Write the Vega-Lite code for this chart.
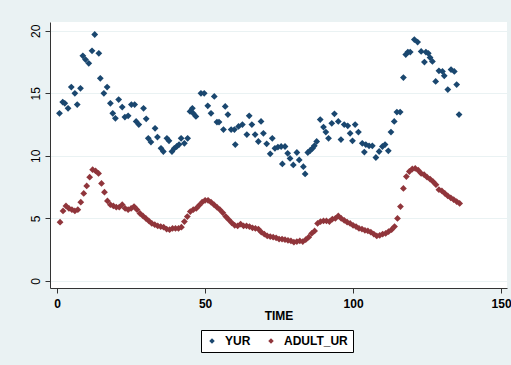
{
  "$schema": "https://vega.github.io/schema/vega-lite/v6.json",
  "width": 457,
  "height": 266,
  "autosize": "none",
  "padding": {"left": 50, "top": 22, "right": 4, "bottom": 77},
  "background": "#eaf2f3",
  "config": {
    "view": {"fill": "white", "stroke": null},
    "font": "Liberation Sans"
  },
  "data": {
    "values": [
      {"t":0.8,"v":13.4,"s":"YUR"},{"t":1.9,"v":14.3,"s":"YUR"},{"t":2.6,"v":14.2,"s":"YUR"},{"t":3.7,"v":13.8,"s":"YUR"},{"t":4.8,"v":15.5,"s":"YUR"},{"t":6.0,"v":15.0,"s":"YUR"},{"t":6.8,"v":14.1,"s":"YUR"},{"t":7.9,"v":15.4,"s":"YUR"},{"t":8.7,"v":18.0,"s":"YUR"},{"t":9.6,"v":17.7,"s":"YUR"},{"t":10.7,"v":17.4,"s":"YUR"},{"t":11.8,"v":18.4,"s":"YUR"},{"t":12.7,"v":19.7,"s":"YUR"},{"t":14.1,"v":18.2,"s":"YUR"},{"t":14.6,"v":16.2,"s":"YUR"},{"t":15.8,"v":15.0,"s":"YUR"},{"t":16.9,"v":15.5,"s":"YUR"},{"t":18.0,"v":14.2,"s":"YUR"},{"t":18.8,"v":13.4,"s":"YUR"},{"t":19.7,"v":13.0,"s":"YUR"},{"t":20.8,"v":14.5,"s":"YUR"},{"t":22.0,"v":13.9,"s":"YUR"},{"t":22.9,"v":13.1,"s":"YUR"},{"t":24.0,"v":13.2,"s":"YUR"},{"t":25.1,"v":14.1,"s":"YUR"},{"t":26.2,"v":14.1,"s":"YUR"},{"t":26.7,"v":12.75,"s":"YUR"},{"t":27.6,"v":12.5,"s":"YUR"},{"t":29.2,"v":13.8,"s":"YUR"},{"t":30.1,"v":12.96,"s":"YUR"},{"t":30.8,"v":11.4,"s":"YUR"},{"t":31.7,"v":11.1,"s":"YUR"},{"t":33.1,"v":12.2,"s":"YUR"},{"t":33.9,"v":11.5,"s":"YUR"},{"t":35.1,"v":10.6,"s":"YUR"},{"t":35.9,"v":10.35,"s":"YUR"},{"t":37.1,"v":11.4,"s":"YUR"},{"t":37.8,"v":11.2,"s":"YUR"},{"t":38.8,"v":10.35,"s":"YUR"},{"t":39.6,"v":10.6,"s":"YUR"},{"t":40.4,"v":10.75,"s":"YUR"},{"t":41.2,"v":10.9,"s":"YUR"},{"t":41.9,"v":11.4,"s":"YUR"},{"t":43.0,"v":11.0,"s":"YUR"},{"t":44.1,"v":11.4,"s":"YUR"},{"t":44.9,"v":13.55,"s":"YUR"},{"t":45.7,"v":13.8,"s":"YUR"},{"t":46.0,"v":13.4,"s":"YUR"},{"t":46.9,"v":13.15,"s":"YUR"},{"t":48.6,"v":15.0,"s":"YUR"},{"t":49.7,"v":15.0,"s":"YUR"},{"t":50.9,"v":14.0,"s":"YUR"},{"t":52.0,"v":13.4,"s":"YUR"},{"t":53.1,"v":14.75,"s":"YUR"},{"t":54.0,"v":12.7,"s":"YUR"},{"t":54.7,"v":12.7,"s":"YUR"},{"t":56.2,"v":12.1,"s":"YUR"},{"t":56.8,"v":13.95,"s":"YUR"},{"t":57.7,"v":13.3,"s":"YUR"},{"t":58.8,"v":12.1,"s":"YUR"},{"t":59.9,"v":12.1,"s":"YUR"},{"t":60.2,"v":10.9,"s":"YUR"},{"t":61.3,"v":12.35,"s":"YUR"},{"t":62.6,"v":12.5,"s":"YUR"},{"t":64.1,"v":11.7,"s":"YUR"},{"t":64.9,"v":13.2,"s":"YUR"},{"t":65.8,"v":12.5,"s":"YUR"},{"t":66.9,"v":11.7,"s":"YUR"},{"t":68.0,"v":11.15,"s":"YUR"},{"t":68.9,"v":12.75,"s":"YUR"},{"t":69.7,"v":11.8,"s":"YUR"},{"t":70.8,"v":10.96,"s":"YUR"},{"t":72.0,"v":10.16,"s":"YUR"},{"t":72.7,"v":11.4,"s":"YUR"},{"t":73.6,"v":10.6,"s":"YUR"},{"t":74.6,"v":10.7,"s":"YUR"},{"t":75.7,"v":10.75,"s":"YUR"},{"t":76.1,"v":9.36,"s":"YUR"},{"t":77.0,"v":10.75,"s":"YUR"},{"t":77.9,"v":10.2,"s":"YUR"},{"t":78.7,"v":9.8,"s":"YUR"},{"t":79.8,"v":9.28,"s":"YUR"},{"t":81.0,"v":10.27,"s":"YUR"},{"t":81.8,"v":9.68,"s":"YUR"},{"t":83.2,"v":9.14,"s":"YUR"},{"t":83.8,"v":8.56,"s":"YUR"},{"t":84.7,"v":10.27,"s":"YUR"},{"t":85.5,"v":10.43,"s":"YUR"},{"t":86.3,"v":10.6,"s":"YUR"},{"t":86.9,"v":10.8,"s":"YUR"},{"t":87.7,"v":11.15,"s":"YUR"},{"t":88.9,"v":12.9,"s":"YUR"},{"t":90.0,"v":12.3,"s":"YUR"},{"t":90.8,"v":11.9,"s":"YUR"},{"t":91.7,"v":11.4,"s":"YUR"},{"t":92.8,"v":12.6,"s":"YUR"},{"t":93.7,"v":13.36,"s":"YUR"},{"t":95.0,"v":12.75,"s":"YUR"},{"t":95.9,"v":11.3,"s":"YUR"},{"t":97.0,"v":12.5,"s":"YUR"},{"t":98.2,"v":12.4,"s":"YUR"},{"t":99.0,"v":11.8,"s":"YUR"},{"t":99.8,"v":11.2,"s":"YUR"},{"t":100.7,"v":12.5,"s":"YUR"},{"t":101.8,"v":11.9,"s":"YUR"},{"t":103.1,"v":11.0,"s":"YUR"},{"t":103.8,"v":10.3,"s":"YUR"},{"t":104.3,"v":10.9,"s":"YUR"},{"t":105.4,"v":10.8,"s":"YUR"},{"t":106.5,"v":10.8,"s":"YUR"},{"t":107.7,"v":9.87,"s":"YUR"},{"t":108.8,"v":10.35,"s":"YUR"},{"t":109.9,"v":10.75,"s":"YUR"},{"t":110.8,"v":10.9,"s":"YUR"},{"t":111.9,"v":10.4,"s":"YUR"},{"t":112.8,"v":11.9,"s":"YUR"},{"t":113.9,"v":12.75,"s":"YUR"},{"t":114.8,"v":13.5,"s":"YUR"},{"t":115.9,"v":13.5,"s":"YUR"},{"t":117.0,"v":16.26,"s":"YUR"},{"t":117.8,"v":18.1,"s":"YUR"},{"t":118.5,"v":18.3,"s":"YUR"},{"t":119.3,"v":18.3,"s":"YUR"},{"t":120.7,"v":19.3,"s":"YUR"},{"t":121.8,"v":19.1,"s":"YUR"},{"t":123.0,"v":18.35,"s":"YUR"},{"t":124.1,"v":17.5,"s":"YUR"},{"t":124.6,"v":18.3,"s":"YUR"},{"t":125.4,"v":18.2,"s":"YUR"},{"t":126.0,"v":17.86,"s":"YUR"},{"t":126.8,"v":17.55,"s":"YUR"},{"t":127.9,"v":15.95,"s":"YUR"},{"t":129.0,"v":16.8,"s":"YUR"},{"t":130.2,"v":16.75,"s":"YUR"},{"t":130.8,"v":16.4,"s":"YUR"},{"t":132.0,"v":15.3,"s":"YUR"},{"t":133.1,"v":16.9,"s":"YUR"},{"t":134.2,"v":16.75,"s":"YUR"},{"t":135.0,"v":15.7,"s":"YUR"},{"t":135.8,"v":13.3,"s":"YUR"},
      {"t":1,"v":4.7,"s":"ADULT_UR"},{"t":2,"v":5.6,"s":"ADULT_UR"},{"t":3,"v":6.0,"s":"ADULT_UR"},{"t":4,"v":5.8,"s":"ADULT_UR"},{"t":5,"v":5.7,"s":"ADULT_UR"},{"t":6,"v":5.6,"s":"ADULT_UR"},{"t":7,"v":5.7,"s":"ADULT_UR"},{"t":8,"v":6.3,"s":"ADULT_UR"},{"t":9,"v":7.0,"s":"ADULT_UR"},{"t":10,"v":7.6,"s":"ADULT_UR"},{"t":11,"v":8.3,"s":"ADULT_UR"},{"t":12,"v":8.9,"s":"ADULT_UR"},{"t":13,"v":8.8,"s":"ADULT_UR"},{"t":14,"v":8.6,"s":"ADULT_UR"},{"t":15,"v":7.8,"s":"ADULT_UR"},{"t":16,"v":7.1,"s":"ADULT_UR"},{"t":17,"v":6.4,"s":"ADULT_UR"},{"t":18,"v":6.1,"s":"ADULT_UR"},{"t":19,"v":6.0,"s":"ADULT_UR"},{"t":20,"v":5.9,"s":"ADULT_UR"},{"t":21,"v":5.9,"s":"ADULT_UR"},{"t":22,"v":6.1,"s":"ADULT_UR"},{"t":23,"v":5.8,"s":"ADULT_UR"},{"t":24,"v":5.7,"s":"ADULT_UR"},{"t":25,"v":5.8,"s":"ADULT_UR"},{"t":26,"v":5.95,"s":"ADULT_UR"},{"t":27,"v":5.7,"s":"ADULT_UR"},{"t":28,"v":5.4,"s":"ADULT_UR"},{"t":29,"v":5.2,"s":"ADULT_UR"},{"t":30,"v":5.0,"s":"ADULT_UR"},{"t":31,"v":4.8,"s":"ADULT_UR"},{"t":32,"v":4.6,"s":"ADULT_UR"},{"t":33,"v":4.5,"s":"ADULT_UR"},{"t":34,"v":4.4,"s":"ADULT_UR"},{"t":35,"v":4.35,"s":"ADULT_UR"},{"t":36,"v":4.3,"s":"ADULT_UR"},{"t":37,"v":4.15,"s":"ADULT_UR"},{"t":38,"v":4.1,"s":"ADULT_UR"},{"t":39,"v":4.2,"s":"ADULT_UR"},{"t":40,"v":4.2,"s":"ADULT_UR"},{"t":41,"v":4.2,"s":"ADULT_UR"},{"t":42,"v":4.3,"s":"ADULT_UR"},{"t":43,"v":4.75,"s":"ADULT_UR"},{"t":44,"v":5.15,"s":"ADULT_UR"},{"t":45,"v":5.55,"s":"ADULT_UR"},{"t":46,"v":5.7,"s":"ADULT_UR"},{"t":47,"v":5.8,"s":"ADULT_UR"},{"t":48,"v":6.05,"s":"ADULT_UR"},{"t":49,"v":6.3,"s":"ADULT_UR"},{"t":50,"v":6.45,"s":"ADULT_UR"},{"t":51,"v":6.45,"s":"ADULT_UR"},{"t":52,"v":6.3,"s":"ADULT_UR"},{"t":53,"v":6.1,"s":"ADULT_UR"},{"t":54,"v":5.9,"s":"ADULT_UR"},{"t":55,"v":5.7,"s":"ADULT_UR"},{"t":56,"v":5.45,"s":"ADULT_UR"},{"t":57,"v":5.15,"s":"ADULT_UR"},{"t":58,"v":4.9,"s":"ADULT_UR"},{"t":59,"v":4.65,"s":"ADULT_UR"},{"t":60,"v":4.45,"s":"ADULT_UR"},{"t":61,"v":4.4,"s":"ADULT_UR"},{"t":62,"v":4.55,"s":"ADULT_UR"},{"t":63,"v":4.4,"s":"ADULT_UR"},{"t":64,"v":4.4,"s":"ADULT_UR"},{"t":65,"v":4.35,"s":"ADULT_UR"},{"t":66,"v":4.25,"s":"ADULT_UR"},{"t":67,"v":4.2,"s":"ADULT_UR"},{"t":68,"v":4.15,"s":"ADULT_UR"},{"t":69,"v":3.9,"s":"ADULT_UR"},{"t":70,"v":3.75,"s":"ADULT_UR"},{"t":71,"v":3.6,"s":"ADULT_UR"},{"t":72,"v":3.55,"s":"ADULT_UR"},{"t":73,"v":3.5,"s":"ADULT_UR"},{"t":74,"v":3.45,"s":"ADULT_UR"},{"t":75,"v":3.35,"s":"ADULT_UR"},{"t":76,"v":3.35,"s":"ADULT_UR"},{"t":77,"v":3.3,"s":"ADULT_UR"},{"t":78,"v":3.25,"s":"ADULT_UR"},{"t":79,"v":3.2,"s":"ADULT_UR"},{"t":80,"v":3.1,"s":"ADULT_UR"},{"t":81,"v":3.15,"s":"ADULT_UR"},{"t":82,"v":3.2,"s":"ADULT_UR"},{"t":83,"v":3.15,"s":"ADULT_UR"},{"t":84,"v":3.3,"s":"ADULT_UR"},{"t":85,"v":3.5,"s":"ADULT_UR"},{"t":86,"v":3.8,"s":"ADULT_UR"},{"t":87,"v":4.0,"s":"ADULT_UR"},{"t":88,"v":4.6,"s":"ADULT_UR"},{"t":89,"v":4.75,"s":"ADULT_UR"},{"t":90,"v":4.8,"s":"ADULT_UR"},{"t":91,"v":4.8,"s":"ADULT_UR"},{"t":92,"v":4.75,"s":"ADULT_UR"},{"t":93,"v":4.95,"s":"ADULT_UR"},{"t":94,"v":5.0,"s":"ADULT_UR"},{"t":95,"v":5.2,"s":"ADULT_UR"},{"t":96,"v":5.0,"s":"ADULT_UR"},{"t":97,"v":4.85,"s":"ADULT_UR"},{"t":98,"v":4.7,"s":"ADULT_UR"},{"t":99,"v":4.6,"s":"ADULT_UR"},{"t":100,"v":4.45,"s":"ADULT_UR"},{"t":101,"v":4.35,"s":"ADULT_UR"},{"t":102,"v":4.2,"s":"ADULT_UR"},{"t":103,"v":4.15,"s":"ADULT_UR"},{"t":104,"v":4.05,"s":"ADULT_UR"},{"t":105,"v":4.0,"s":"ADULT_UR"},{"t":106,"v":3.9,"s":"ADULT_UR"},{"t":107,"v":3.75,"s":"ADULT_UR"},{"t":108,"v":3.6,"s":"ADULT_UR"},{"t":109,"v":3.65,"s":"ADULT_UR"},{"t":110,"v":3.75,"s":"ADULT_UR"},{"t":111,"v":3.8,"s":"ADULT_UR"},{"t":112,"v":3.95,"s":"ADULT_UR"},{"t":113,"v":4.1,"s":"ADULT_UR"},{"t":114,"v":4.35,"s":"ADULT_UR"},{"t":115,"v":5.0,"s":"ADULT_UR"},{"t":116,"v":5.95,"s":"ADULT_UR"},{"t":117,"v":7.4,"s":"ADULT_UR"},{"t":118,"v":8.35,"s":"ADULT_UR"},{"t":119,"v":8.75,"s":"ADULT_UR"},{"t":120,"v":8.95,"s":"ADULT_UR"},{"t":121,"v":9.0,"s":"ADULT_UR"},{"t":122,"v":8.85,"s":"ADULT_UR"},{"t":123,"v":8.6,"s":"ADULT_UR"},{"t":124,"v":8.5,"s":"ADULT_UR"},{"t":125,"v":8.3,"s":"ADULT_UR"},{"t":126,"v":8.15,"s":"ADULT_UR"},{"t":127,"v":7.95,"s":"ADULT_UR"},{"t":128,"v":7.7,"s":"ADULT_UR"},{"t":129,"v":7.3,"s":"ADULT_UR"},{"t":130,"v":7.2,"s":"ADULT_UR"},{"t":131,"v":7.0,"s":"ADULT_UR"},{"t":132,"v":6.8,"s":"ADULT_UR"},{"t":133,"v":6.65,"s":"ADULT_UR"},{"t":134,"v":6.5,"s":"ADULT_UR"},{"t":135,"v":6.35,"s":"ADULT_UR"},{"t":136,"v":6.2,"s":"ADULT_UR"}
    ]
  },
  "mark": {"type": "point", "shape": "diamond", "filled": true, "size": 46, "opacity": 1},
  "encoding": {
    "x": {
      "field": "t", "type": "quantitative",
      "scale": {"domain": [-2.4, 152], "nice": false, "zero": false},
      "axis": {
        "title": "TIME", "values": [0, 50, 100, 150], "grid": false,
        "domainColor": "#333333", "tickColor": "#333333", "tickSize": 5,
        "labelFont": "Liberation Sans", "labelFontSize": 12, "labelFontWeight": "bold", "labelColor": "#000000",
        "labelPadding": 5, "labelFlush": false,
        "titleFont": "Liberation Sans", "titleFontSize": 12, "titleFontWeight": "bold", "titleColor": "#000000",
        "titlePadding": 1
      }
    },
    "y": {
      "field": "v", "type": "quantitative",
      "scale": {"domain": [-0.56, 20.7], "nice": false, "zero": false},
      "axis": {
        "title": null, "values": [0, 5, 10, 15, 20], "grid": true, "gridColor": "#eaf2f3", "gridWidth": 1,
        "domainColor": "#333333", "tickColor": "#333333", "tickSize": 5,
        "labelAngle": -90, "labelAlign": "center", "labelBaseline": "bottom",
        "labelFont": "Liberation Sans", "labelFontSize": 12, "labelColor": "#000000",
        "labelPadding": 3
      }
    },
    "color": {
      "field": "s", "type": "nominal",
      "scale": {"domain": ["YUR", "ADULT_UR"], "range": ["#1a476f", "#90353b"]},
      "legend": {
        "title": null, "orient": "none", "legendX": 151, "legendY": 308, "direction": "horizontal",
        "fillColor": "white", "strokeColor": "#000000", "padding": 5,
        "symbolType": "diamond", "symbolSize": 30, "labelFont": "Liberation Sans", "labelFontSize": 12,
        "labelFontWeight": "bold", "labelColor": "#000000", "columnPadding": 14, "labelOffset": 7
      }
    }
  }
}
